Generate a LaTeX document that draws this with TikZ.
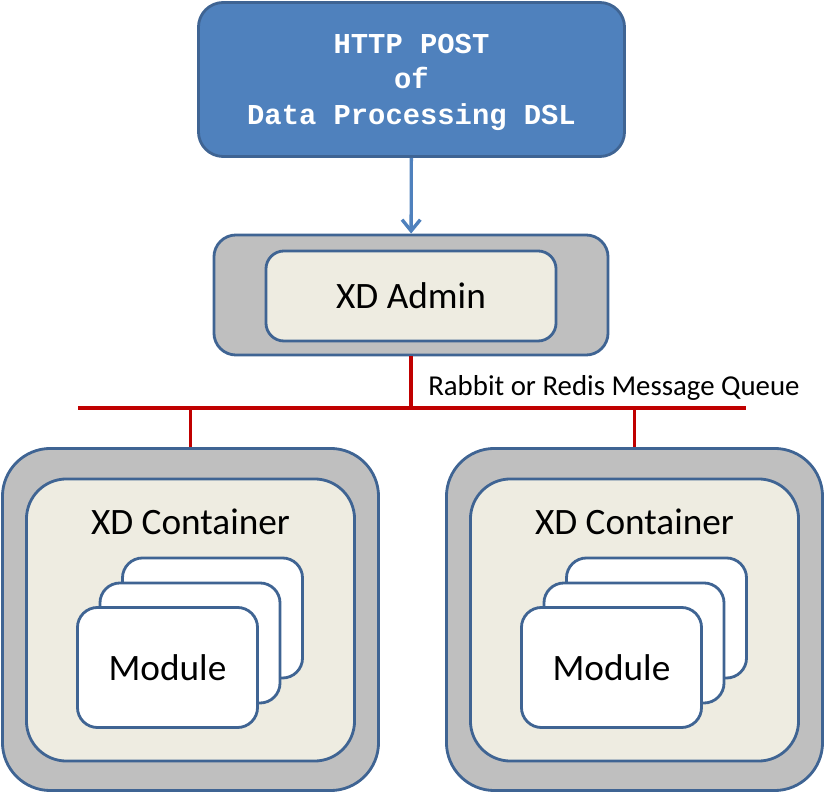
\documentclass[tikz,border=0pt]{standalone}
\usepackage{fontspec}
\setmainfont{Carlito}
\newfontfamily\codefont{Liberation Mono}
\usepackage{tikz}
\usetikzlibrary{arrows.meta,positioning}

\definecolor{postblue}{HTML}{4F81BD}
\definecolor{edgeblue}{HTML}{3F6493}
\definecolor{shellgray}{HTML}{BFBFBF}
\definecolor{paper}{HTML}{EEECE1}
\definecolor{busred}{HTML}{C00000}

\begin{document}
\begin{tikzpicture}[x=0.025cm, y=-0.025cm, >={Straight Barb[length=8pt, width=13pt]},
    request/.style={draw=edgeblue, line width=2pt, rounded corners=0.62cm, fill=postblue, minimum width=10.65cm, minimum height=3.85cm},
    code/.style={text=white, align=center, font=\codefont\bfseries\fontsize{20.5}{25.2}\selectfont},
    shell/.style={draw=edgeblue, line width=2pt, fill=shellgray},
    core/.style={draw=edgeblue, line width=2pt, fill=paper},
    card/.style={draw=edgeblue, line width=2pt, rounded corners=0.5cm, fill=white, minimum width=4.5cm, minimum height=3cm, font=\fontsize{26.5}{30}\selectfont},
    bus/.style={draw=busred, line width=2.6pt}]
    \useasboundingbox (0,0) rectangle (825,793);
    % Nodes (request and admin)
    \node[request] (post) at (411.5,79.5) {};
    \node[code] (posttext) at (411.5,82) {HTTP POST\\of\\Data Processing DSL};
    \node[shell, rounded corners=0.55cm, minimum width=9.85cm, minimum height=3cm] (adminshell) at (411,295) {};
    \node[core, rounded corners=0.45cm, minimum width=7.25cm, minimum height=2.25cm, font=\fontsize{26.5}{30}\selectfont] (admin) at (411,296) {XD Admin};
    % Containers
    \node[shell, rounded corners=1.2cm, minimum width=9.4cm, minimum height=8.55cm] (leftshell) at (190.5,619.5) {};
    \node[core, rounded corners=1cm, minimum width=8.2cm, minimum height=7.05cm] (leftcore) at (190.5,620) {};
    \node[font=\fontsize{26.5}{30}\selectfont] (leftlabel) at (190.5,522) {XD Container};
    \node[shell, rounded corners=1.2cm, minimum width=9.4cm, minimum height=8.55cm] (rightshell) at (634.5,619.5) {};
    \node[core, rounded corners=1cm, minimum width=8.2cm, minimum height=7.05cm] (rightcore) at (634.5,620) {};
    \node[font=\fontsize{26.5}{30}\selectfont] (rightlabel) at (634.5,522) {XD Container};
    % Module stacks
    \node[card] (leftback) at (212.5,618) {};
    \node[card] (leftmid) at (190,643) {};
    \node[card] (leftmodule) at (167.5,667.5) {Module};
    \node[card] (rightback) at (656.5,618) {};
    \node[card] (rightmid) at (634,643) {};
    \node[card] (rightmodule) at (611.5,667.5) {Module};
    % Message bus
    \coordinate (busleft) at (78,408);
    \coordinate (busright) at (746,408);
    \coordinate (hub) at (adminshell.south |- busleft);
    \draw[bus] (busleft) -- (busright);
    \draw[bus] (adminshell.south) -- (hub);
    \draw[bus] (leftshell.north) -- (leftshell.north |- busleft);
    \draw[bus] (rightshell.north) -- (rightshell.north |- busleft);
    \node[anchor=west, font=\fontsize{20.5}{24}\selectfont, inner sep=0pt] (queue) at (428,388) {Rabbit or Redis Message Queue};
    % Arrows
    \draw[->, draw=postblue, line width=2.4pt] (post) -- (adminshell);
\end{tikzpicture}
\end{document}
